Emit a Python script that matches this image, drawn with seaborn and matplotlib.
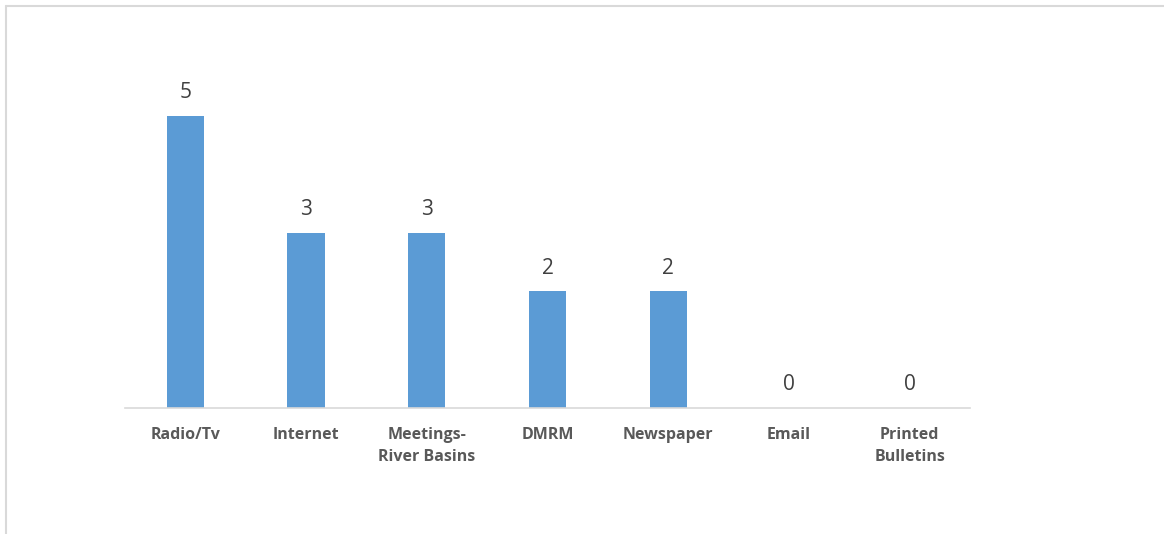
import matplotlib
matplotlib.use("Agg")
import matplotlib.pyplot as plt
from matplotlib.lines import Line2D
import seaborn as sns
import pandas as pd

categories = ["Radio/Tv", "Internet", "Meetings-\nRiver Basins", "DMRM",
              "Newspaper", "Email", "Printed\nBulletins"]
counts = [5, 3, 3, 2, 2, 0, 0]

sns.set_theme(style="white")
plt.rcParams["font.family"] = ["Open Sans", "DejaVu Sans"]

W, H = 1164, 534
fig = plt.figure(figsize=(W / 100, H / 100), dpi=100)
ax = fig.add_axes([125 / W, 1 - 408 / H, 845 / W, (408 - 57.6) / H])

df = pd.DataFrame({"category": categories, "count": counts})
sns.barplot(data=df, x="category", y="count", color="#5b9bd5",
            width=0.31, saturation=1, linewidth=0, ax=ax)

ax.set_ylim(0, 6)
ax.set_xlim(-0.5, len(categories) - 0.5)
ax.set_xlabel("")
ax.set_ylabel("")
ax.set_yticks([])
for side in ["top", "right", "left"]:
    ax.spines[side].set_visible(False)
ax.spines["bottom"].set_color("#d9d9d9")
ax.spines["bottom"].set_linewidth(1.2)
ax.tick_params(axis="x", length=0, pad=14)
for lbl in ax.get_xticklabels():
    lbl.set_fontweight("bold")
    lbl.set_fontsize(11.5)
    lbl.set_color("#595959")
    lbl.set_linespacing(1.45)
    lbl.set_verticalalignment("top")

for i, v in enumerate(counts):
    ax.annotate(str(v), (i, v), xytext=(0, 9), textcoords="offset points",
                ha="center", va="bottom", fontsize=15, color="#404040")

# chart frame edges
fig.add_artist(Line2D([6 / W, 6 / W], [0, 1 - 6 / H], color="#d9d9d9", lw=1.5,
                      transform=fig.transFigure))
fig.add_artist(Line2D([6 / W, 1], [1 - 6 / H, 1 - 6 / H], color="#d9d9d9", lw=1.5,
                      transform=fig.transFigure))

fig.savefig("out.png", dpi=100, facecolor="white")
